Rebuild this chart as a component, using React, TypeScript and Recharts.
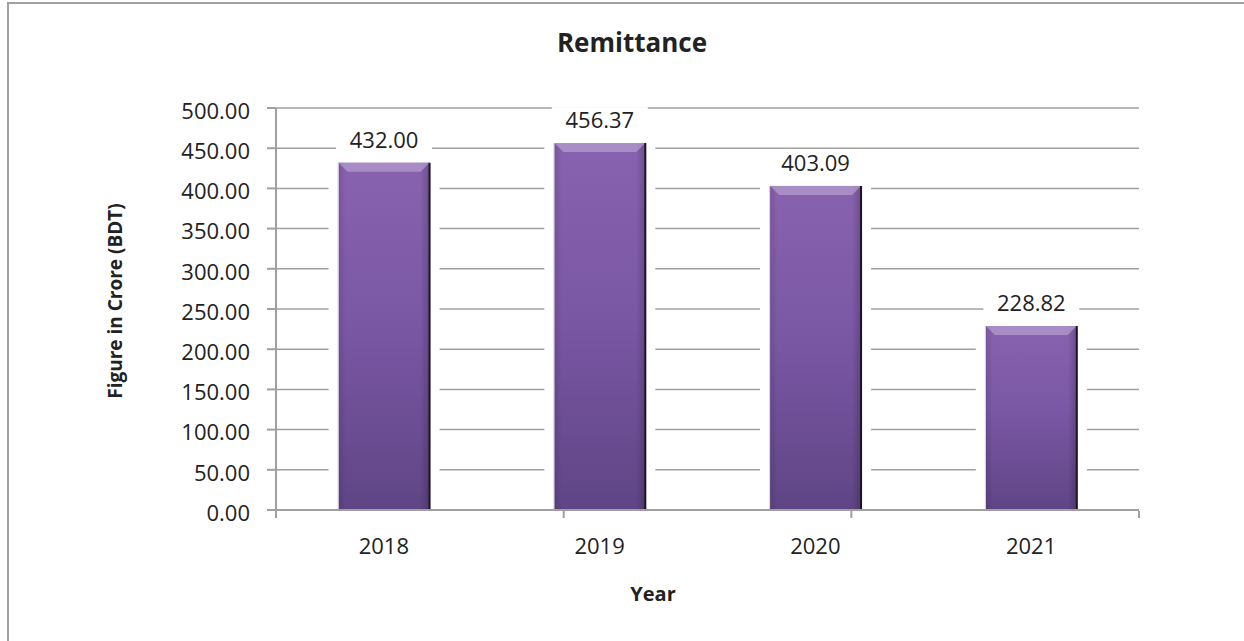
import React from "react";
import { BarChart, Bar, XAxis, YAxis, CartesianGrid, LabelList } from "recharts";

const years = ["2018", "2019", "2020", "2021"];
const remittance = [432.0, 456.37, 403.09, 228.82];
const yTicks = [0, 50, 100, 150, 200, 250, 300, 350, 400, 450, 500];
const boundaryTicks = [0, 1, 2, 3, 4];

const data = years.map((y, i) => ({ year: y, value: remittance[i] }));

const FONT = "'Open Sans', sans-serif";
const GRAY = "#a0a0a0";

const BarShape = (p: any) => {
  const { x, y, width, height } = p;
  if (height <= 0) return null;
  const bevel = 9;
  return (
    <g>
      <rect x={x - 10} y={y - 6} width={width + 20} height={height + 5} fill="#ffffff" />
      <rect x={x} y={y} width={width} height={height} fill="url(#barGrad)" />
      <rect x={x} y={y} width={width} height={height} fill="url(#sideGrad)" />
      <path
        d={`M${x},${y} L${x + width},${y} L${x + width - bevel},${y + bevel} L${x + bevel},${y + bevel} Z`}
        fill="#c2b0da"
        opacity={0.55}
      />
      <line x1={x - 0.5} y1={y} x2={x - 0.5} y2={y + height} stroke="#d6d0dc" strokeWidth={1} />
      <line x1={x + width} y1={y} x2={x + width} y2={y + height} stroke="#1b1326" strokeWidth={2} />
    </g>
  );
};

const BarLabel = (p: any) => {
  const { x, y, width, value } = p;
  const cx = x + width / 2;
  const txt = Number(value).toFixed(2);
  return (
    <g>
      <rect x={cx - 48} y={y - 36} width={96} height={30} fill="#ffffff" />
      <text x={cx} y={y - 15} textAnchor="middle" fontFamily={FONT} fontSize={22} fill="#222222">
        {txt}
      </text>
    </g>
  );
};

const EmptyTick = () => <g />;

export default function App() {
  return (
    <div style={{ position: "absolute", left: 0, top: 0, width: 1244, height: 641, background: "#ffffff", overflow: "hidden" }}>
      <BarChart
        width={1244}
        height={641}
        data={data}
        margin={{ top: 108, right: 105, left: 0, bottom: 100 }}
        barCategoryGap="29%"
      >
        <defs>
          <linearGradient id="barGrad" x1="0" y1="0" x2="0" y2="1">
            <stop offset="0%" stopColor="#8862ae" />
            <stop offset="45%" stopColor="#7b58a5" />
            <stop offset="100%" stopColor="#5f4585" />
          </linearGradient>
          <linearGradient id="sideGrad" x1="0" y1="0" x2="1" y2="0">
            <stop offset="0%" stopColor="#000000" stopOpacity={0.12} />
            <stop offset="8%" stopColor="#000000" stopOpacity={0} />
            <stop offset="90%" stopColor="#000000" stopOpacity={0} />
            <stop offset="100%" stopColor="#000000" stopOpacity={0.2} />
          </linearGradient>
        </defs>
        <CartesianGrid vertical={false} stroke={GRAY} strokeWidth={1.5} />
        <XAxis
          dataKey="year"
          height={1}
          tickLine={false}
          tickSize={0}
          tickMargin={28}
          axisLine={{ stroke: GRAY, strokeWidth: 2 }}
          tick={{ fontFamily: FONT, fontSize: 22, fill: "#222222" }}
        />
        <XAxis
          xAxisId="bounds"
          type="number"
          domain={[0, 4]}
          ticks={boundaryTicks}
          interval={0}
          allowDataOverflow
          height={30}
          tickSize={7}
          tick={EmptyTick}
          axisLine={false}
          tickLine={{ stroke: GRAY, strokeWidth: 2 }}
        />
        <YAxis
          width={276}
          domain={[0, 500]}
          ticks={yTicks}
          interval={0}
          tickFormatter={(v: number) => v.toFixed(2)}
          tickSize={9}
          tickMargin={17}
          axisLine={{ stroke: GRAY, strokeWidth: 2 }}
          tickLine={{ stroke: GRAY, strokeWidth: 2 }}
          tick={{ fontFamily: FONT, fontSize: 22, fill: "#222222", dy: 3 }}
        />
        <Bar dataKey="value" shape={BarShape} isAnimationActive={false}>
          <LabelList dataKey="value" content={BarLabel} />
        </Bar>
      </BarChart>
      <svg width={1244} height={641} style={{ position: "absolute", left: 0, top: 0, pointerEvents: "none" }}>
        <line x1={8} y1={3} x2={8} y2={641} stroke={GRAY} strokeWidth={2} />
        <line x1={7} y1={3} x2={1244} y2={3} stroke={GRAY} strokeWidth={2} />
        <text x={632} y={52} textAnchor="middle" fontFamily={FONT} fontWeight="bold" fontSize={26} fill="#222222">
          Remittance
        </text>
        <text x={653} y={601} textAnchor="middle" fontFamily={FONT} fontWeight="bold" fontSize={20} fill="#222222">
          Year
        </text>
        <text
          x={122}
          y={301}
          textAnchor="middle"
          transform="rotate(-90, 122, 301)"
          fontFamily={FONT}
          fontWeight="bold"
          fontSize={19}
          fill="#222222"
        >
          Figure in Crore (BDT)
        </text>
      </svg>
    </div>
  );
}
